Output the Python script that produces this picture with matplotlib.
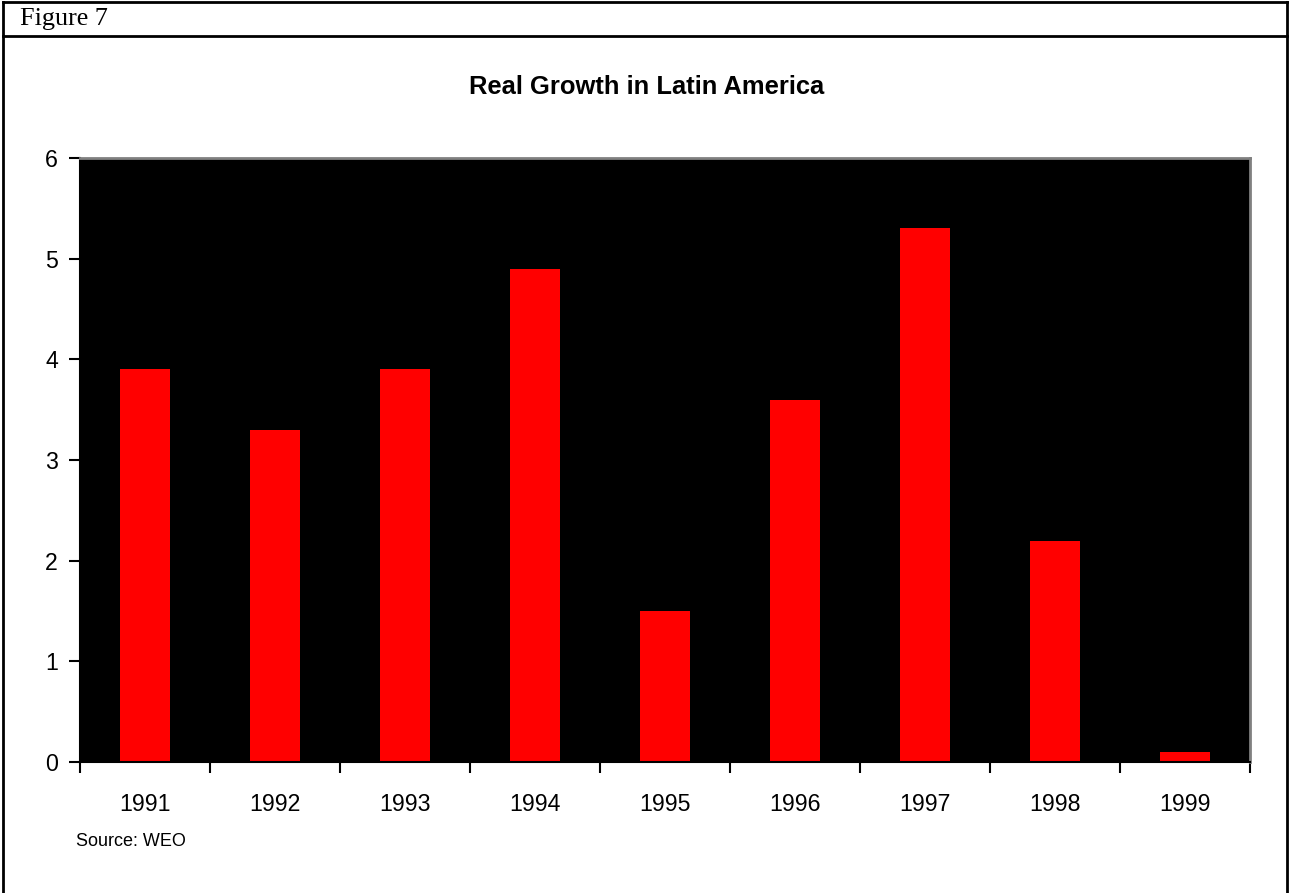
import matplotlib
matplotlib.use("Agg")
import matplotlib.pyplot as plt
from matplotlib.lines import Line2D

years = ["1991", "1992", "1993", "1994", "1995", "1996", "1997", "1998", "1999"]
growth = [3.9, 3.3, 3.9, 4.9, 1.5, 3.6, 5.3, 2.2, 0.1]

W, H = 1290, 893
fig = plt.figure(figsize=(W / 100, H / 100), dpi=100)
fig.patch.set_facecolor("white")

# outer frame and header line
fig.add_artist(Line2D([2.5 / W, 2.5 / W], [0, 1 - 1.5 / H], color="black", lw=2))
fig.add_artist(Line2D([1 - 3.5 / W, 1 - 3.5 / W], [0, 1 - 1.5 / H], color="black", lw=2))
fig.add_artist(Line2D([2.5 / W, 1 - 3.5 / W], [1 - 2 / H, 1 - 2 / H], color="black", lw=2))
fig.add_artist(Line2D([2.5 / W, 1 - 3.5 / W], [1 - 36 / H, 1 - 36 / H], color="black", lw=2))

fig.text(20 / W, 1 - 19 / H, "Figure 7", family="Liberation Serif", fontsize=18.8,
         va="center", ha="left")
fig.text(647 / W, 1 - 87 / H, "Real Growth in Latin America", family="Liberation Sans",
         fontsize=18.4, fontweight="bold", ha="center", va="center")
fig.text(76 / W, 1 - 841 / H, "Source: WEO", family="Liberation Sans", fontsize=13,
         ha="left", va="center")

ax = fig.add_axes([80 / W, 1 - 762 / H, 1170 / W, 604 / H])
ax.set_facecolor("black")
x = list(range(len(years)))
ax.bar(x, growth, width=0.385, color="#ff0000")
ax.set_xlim(-0.5, len(years) - 0.5)
ax.set_ylim(0, 6)
ax.set_yticks(range(0, 7))
ax.set_xticks(x)
ax.set_xticklabels(years)
ax.set_xticks([i - 0.5 for i in range(len(years) + 1)], minor=True)
ax.tick_params(axis="x", which="major", length=0, pad=22)
ax.tick_params(axis="x", which="minor", length=8, width=1.5, direction="out", color="black")
ax.tick_params(axis="y", length=8, width=1.5, direction="out", pad=8)
for lab in ax.get_xticklabels() + ax.get_yticklabels():
    lab.set_family("Liberation Sans")
    lab.set_fontsize(16.7)
ax.spines["left"].set_color("black")
ax.spines["bottom"].set_color("black")
ax.spines["left"].set_linewidth(1.5)
ax.spines["bottom"].set_linewidth(1.5)
ax.spines["top"].set_color("#808080")
ax.spines["right"].set_color("#808080")
ax.spines["top"].set_linewidth(2)
ax.spines["right"].set_linewidth(2)

fig.savefig("out.png", dpi=100, facecolor="white")
